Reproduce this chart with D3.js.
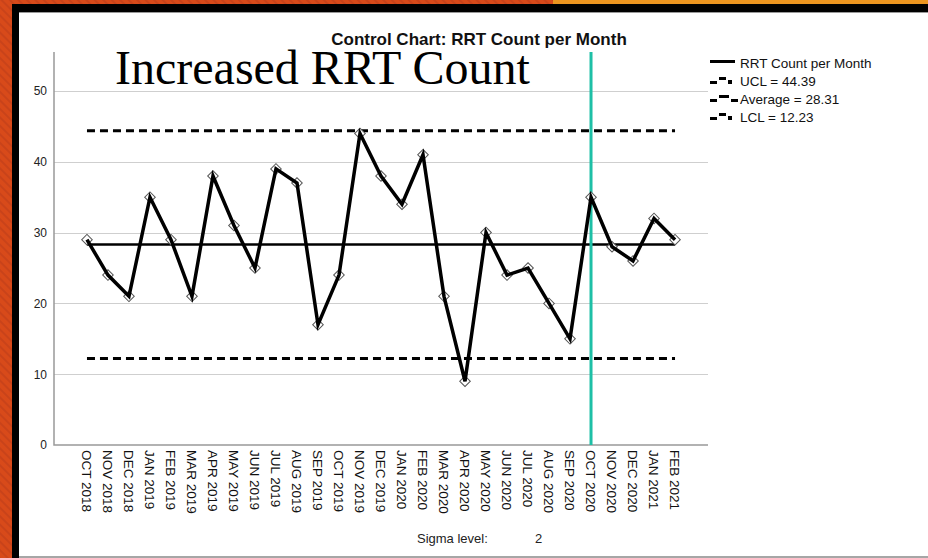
<!DOCTYPE html>
<html>
<head>
<meta charset="utf-8">
<script src="https://cdn.jsdelivr.net/npm/d3@7"></script>
<style>
  html, body { margin: 0; padding: 0; background: #fff; }
  svg { display: block; }
</style>
</head>
<body>
<div id="chart"></div>
<script>
// Months on the x axis
var months = ['OCT 2018', 'NOV 2018', 'DEC 2018', 'JAN 2019', 'FEB 2019', 'MAR 2019',
  'APR 2019', 'MAY 2019', 'JUN 2019', 'JUL 2019', 'AUG 2019', 'SEP 2019',
  'OCT 2019', 'NOV 2019', 'DEC 2019', 'JAN 2020', 'FEB 2020', 'MAR 2020',
  'APR 2020', 'MAY 2020', 'JUN 2020', 'JUL 2020', 'AUG 2020', 'SEP 2020',
  'OCT 2020', 'NOV 2020', 'DEC 2020', 'JAN 2021', 'FEB 2021'];

// RRT count per month
var counts = [29, 24, 21, 35, 29, 21, 38, 31, 25, 39, 37, 17, 24, 44, 38, 34, 41, 21,
  9, 30, 24, 25, 20, 15, 35, 28, 26, 32, 29];

var controlLimits = { ucl: 44.39, average: 28.31, lcl: 12.23 };
var yTicks = [0, 10, 20, 30, 40, 50];
var markerMonth = 'OCT 2020';
var sigmaLevel = 2;

var legendItems = [
  { label: 'RRT Count per Month', kind: 'solid' },
  { label: 'UCL = ' + controlLimits.ucl, kind: 'limit' },
  { label: 'Average = ' + controlLimits.average, kind: 'avg' },
  { label: 'LCL = ' + controlLimits.lcl, kind: 'limit' }
];

var width = 928;
var height = 558;
var plot = { left: 54, right: 708, top: 52, bottom: 445 };
var sans = '"Liberation Sans", Arial, sans-serif';

var svg = d3.select('#chart')
  .append('svg')
    .attr('width', width)
    .attr('height', height);

/* === Slide frame === */

var defs = svg.append('defs');
var stripes = defs.append('pattern')
    .attr('id', 'stripes')
    .attr('patternUnits', 'userSpaceOnUse')
    .attr('width', 6)
    .attr('height', 6)
    .attr('patternTransform', 'rotate(-45)');
stripes.append('rect')
    .attr('width', 6)
    .attr('height', 6)
    .attr('fill', '#d84a1a');
stripes.append('rect')
    .attr('width', 2)
    .attr('height', 6)
    .attr('fill', '#c9431a');

svg.append('rect')
    .attr('width', width)
    .attr('height', height)
    .attr('fill', 'url(#stripes)');
svg.append('rect')
    .attr('x', 553)
    .attr('width', width - 553)
    .attr('height', 5)
    .attr('fill', '#ec951f');
svg.append('rect')
    .attr('x', 12)
    .attr('y', 4)
    .attr('width', width - 12)
    .attr('height', height - 4)
    .attr('fill', '#000');
svg.append('rect')
    .attr('x', 19)
    .attr('y', 12)
    .attr('width', width - 19)
    .attr('height', height - 12)
    .attr('fill', '#fff');
svg.append('line')
    .attr('x1', 19)
    .attr('x2', width)
    .attr('y1', 12.5)
    .attr('y2', 12.5)
    .attr('stroke', '#999')
    .attr('stroke-width', 1);
svg.append('line')
    .attr('x1', 19)
    .attr('x2', width)
    .attr('y1', 557)
    .attr('y2', 557)
    .attr('stroke', '#888')
    .attr('stroke-width', 1.5);

/* === Scales === */

var x = d3.scalePoint()
  .domain(months)
  .range([plot.left, plot.right])
  .padding(1.57);

var y = d3.scaleLinear()
  .domain([0, 50])
  .range([plot.bottom, 91]);

var xFirst = x(months[0]);
var xLast = x(months[months.length - 1]);

/* === Grid and axes === */

svg.append('g')
    .attr('class', 'grid')
  .selectAll('line')
  .data(yTicks.filter(function(t) { return t > 0; }))
  .enter()
  .append('line')
    .attr('x1', plot.left)
    .attr('x2', plot.right)
    .attr('y1', function(d) { return Math.round(y(d)) + 0.5; })
    .attr('y2', function(d) { return Math.round(y(d)) + 0.5; })
    .attr('stroke', '#cfcfcf')
    .attr('stroke-width', 1.2);

var yAxis = d3.axisLeft(y)
  .tickValues(yTicks)
  .tickSize(0)
  .tickPadding(7);

svg.append('g')
    .attr('transform', 'translate(' + plot.left + ',0)')
    .call(yAxis)
    .call(function(g) {
      g.select('.domain').remove();
      g.selectAll('text')
        .attr('font-family', sans)
        .attr('font-size', 12)
        .attr('fill', '#222');
    });

var xAxis = d3.axisBottom(x)
  .tickSize(0)
  .tickPadding(0);

svg.append('g')
    .attr('transform', 'translate(0,' + plot.bottom + ')')
    .call(xAxis)
    .call(function(g) {
      g.select('.domain').remove();
      g.selectAll('text')
        .attr('font-family', sans)
        .attr('font-size', 13.5)
        .attr('fill', '#111')
        .attr('text-anchor', 'start')
        .attr('dy', '0.35em')
        .attr('transform', 'translate(-1,5) rotate(90)');
    });

// Axis lines
svg.append('path')
    .attr('d', 'M' + plot.left + ',' + plot.top + 'V' + plot.bottom + 'H' + plot.right)
    .attr('fill', 'none')
    .attr('stroke', '#999')
    .attr('stroke-width', 1.5);

/* === Control lines === */

var limitLine = function(value, dashed) {
  svg.append('line')
      .attr('x1', xFirst)
      .attr('x2', xLast)
      .attr('y1', y(value))
      .attr('y2', y(value))
      .attr('stroke', '#000')
      .attr('stroke-width', dashed ? 3 : 2.5)
      .attr('stroke-dasharray', dashed ? '8,5' : null);
};

limitLine(controlLimits.ucl, true);
limitLine(controlLimits.lcl, true);
limitLine(controlLimits.average, false);

// Phase marker
svg.append('line')
    .attr('x1', x(markerMonth))
    .attr('x2', x(markerMonth))
    .attr('y1', plot.top)
    .attr('y2', plot.bottom)
    .attr('stroke', '#1ebfa6')
    .attr('stroke-width', 3);

/* === Data series === */

var points = months.map(function(m, i) {
  return { month: m, value: counts[i] };
});

svg.append('g')
    .attr('class', 'markers')
  .selectAll('path')
  .data(points)
  .enter()
  .append('path')
    .attr('d', d3.symbol().type(d3.symbolSquare).size(56))
    .attr('transform', function(d) {
      return 'translate(' + x(d.month) + ',' + y(d.value) + ') rotate(45)';
    })
    .attr('fill', '#fff')
    .attr('stroke', '#555')
    .attr('stroke-width', 1);

var line = d3.line()
  .x(function(d) { return x(d.month); })
  .y(function(d) { return y(d.value); });

svg.append('path')
    .datum(points)
    .attr('d', line)
    .attr('fill', 'none')
    .attr('stroke', '#000')
    .attr('stroke-width', 3.5)
    .attr('stroke-linejoin', 'miter');

/* === Titles === */

svg.append('text')
    .attr('x', 479)
    .attr('y', 45)
    .attr('text-anchor', 'middle')
    .attr('font-family', sans)
    .attr('font-weight', 'bold')
    .attr('font-size', 17)
    .attr('fill', '#111')
    .text('Control Chart: RRT Count per Month');

svg.append('text')
    .attr('x', 115)
    .attr('y', 84)
    .attr('font-family', '"Liberation Serif", "Times New Roman", serif')
    .attr('font-size', 48)
    .attr('fill', '#000')
    .text('Increased RRT Count');

svg.append('text')
    .attr('x', 417)
    .attr('y', 543)
    .attr('font-family', sans)
    .attr('font-size', 13)
    .attr('fill', '#222')
    .text('Sigma level:');

svg.append('text')
    .attr('x', 535)
    .attr('y', 543)
    .attr('font-family', sans)
    .attr('font-size', 13)
    .attr('fill', '#222')
    .text(sigmaLevel);

/* === Legend === */

var legend = svg.append('g')
    .attr('transform', 'translate(710,63)');

var rows = legend.selectAll('g')
  .data(legendItems)
  .enter()
  .append('g')
    .attr('transform', function(d, i) { return 'translate(0,' + (i * 18) + ')'; });

rows.each(function(d) {
  var g = d3.select(this);
  if (d.kind === 'solid') {
    g.append('rect').attr('x', 0).attr('y', -3).attr('width', 25).attr('height', 3).attr('fill', '#000');
  } else {
    g.append('rect').attr('x', 0).attr('y', 0).attr('width', 7).attr('height', 3).attr('fill', '#000');
    g.append('rect').attr('x', 9).attr('y', -4).attr('width', d.kind === 'avg' ? 10 : 7).attr('height', 3).attr('fill', '#000');
    if (d.kind === 'avg') {
      g.append('rect').attr('x', 21).attr('y', 0).attr('width', 7).attr('height', 3).attr('fill', '#000');
    } else {
      g.append('rect').attr('x', 18).attr('y', -1).attr('width', 4).attr('height', 4).attr('fill', '#000');
    }
  }
  g.append('text')
      .attr('x', 30)
      .attr('dy', '0.35em')
      .attr('font-family', sans)
      .attr('font-size', 13.5)
      .attr('fill', '#111')
      .text(d.label);
});
</script>
</body>
</html>
